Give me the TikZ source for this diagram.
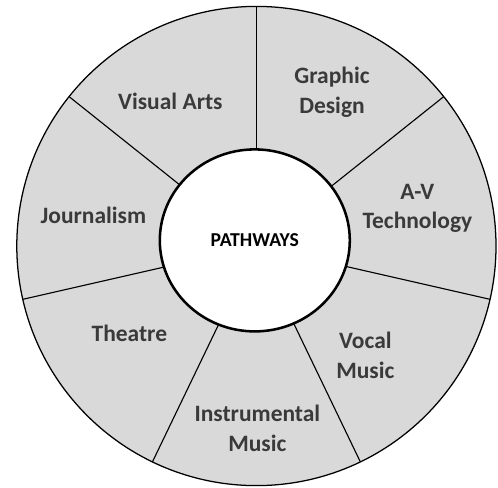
\documentclass[tikz,border=0pt]{standalone}
\usepackage{fontspec}
\setmainfont{Carlito}
\usetikzlibrary{shapes.geometric}

\definecolor{sector}{HTML}{D9D9D9}
\definecolor{labelgray}{HTML}{3A3A3A}

\tikzset{
  pathway/.style = {align = center, text depth = 0pt, text = labelgray,
    font = \fontsize{16.7}{21.3}\selectfont\bfseries}
}

\begin{document}
\begin{tikzpicture}
      \useasboundingbox (-6.41, -6.025) rectangle (6.04, 6.15);
      \coordinate (centre) at (0, 0);

      % outer wheel split into seven equal sectors
      \draw [fill = sector, line width = 0.9pt] (centre) circle (5.99);
      \foreach \k in {0, ..., 6}
        \draw [line width = 0.8pt] (centre) -- ({90 - \k*360/7}:5.99);

      \node (hub) [draw, ellipse, line width = 1.8pt, fill = white, minimum width = 4.75cm, minimum height = 4.55cm, text depth = 0pt, font = \fontsize{14}{16}\selectfont\bfseries] at (-0.04, 0.14) {PATHWAYS};

      \node (visual_arts) [pathway] at (-2.15, 3.61) {Visual Arts};
      \node (graphic_design) [pathway] at (1.89, 3.9) {Graphic\\Design};
      \node (av_tech) [pathway] at (4.025, 0.99) {A-V\\Technology};
      \node (vocal_music) [pathway] at (2.725, -2.73) {Vocal\\Music};
      \node (instrumental_music) [pathway] at (0.025, -4.56) {Instrumental\\Music};
      \node (theatre) [pathway] at (-3.175, -2.19) {Theatre};
      \node (journalism) [pathway] at (-4.075, 0.775) {Journalism};
\end{tikzpicture}
\end{document}
